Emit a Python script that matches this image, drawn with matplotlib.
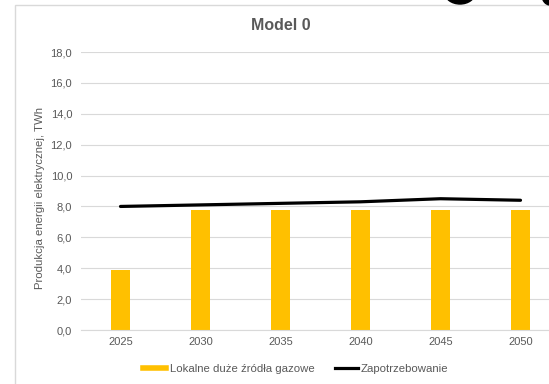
import matplotlib
matplotlib.use("Agg")
import matplotlib.pyplot as plt
from matplotlib.lines import Line2D
from matplotlib.patches import Rectangle, Ellipse
import numpy as np

years = ["2025", "2030", "2035", "2040", "2045", "2050"]
gas_local = [3.9, 7.8, 7.8, 7.8, 7.8, 7.8]
demand = [8.0, 8.1, 8.2, 8.3, 8.5, 8.4]
yticks = [0, 2, 4, 6, 8, 10, 12, 14, 16, 18]
title = "Model 0"
ylabel = "Produkcja energii elektrycznej, TWh"
legend_labels = ["Lokalne duże źródła gazowe", "Zapotrzebowanie"]

plt.rcParams['font.family'] = ['Liberation Sans', 'DejaVu Sans']
W, H = 549, 384
fig = plt.figure(figsize=(W / 100, H / 100), dpi=100)
fig.patch.set_facecolor("white")

def fx(px):
    return px / W

def fy(py):
    return 1 - py / H

# chart frame
fig.add_artist(Rectangle((fx(15), fy(400)), fx(600) - fx(15), fy(5) - fy(400),
                         transform=fig.transFigure, fill=False,
                         edgecolor="#d9d9d9", linewidth=1.0))

# fragments of cropped text above the frame
fig.add_artist(Ellipse((fx(460), fy(-7)), 30 / W, 22 / H, transform=fig.transFigure,
                       color="black"))
fig.add_artist(Ellipse((fx(550), fy(-5)), 16 / W, 20 / H, transform=fig.transFigure,
                       color="black"))

left, right, top, bottom = 80.5, 560.5, 52, 330
ax = fig.add_axes([fx(left), fy(bottom), fx(right) - fx(left), fy(top) - fy(bottom)])
ax.set_facecolor("none")
x = np.arange(len(years))
ax.bar(x, gas_local, width=0.24, color="#FFC000", zorder=2)
ax.plot(x, demand, color="black", linewidth=2.3, solid_capstyle="round", zorder=3)

ax.set_xlim(-0.5, len(years) - 0.5)
ax.set_ylim(0, 18)
ax.set_yticks(yticks)
ax.set_yticklabels([f"{v:.1f}".replace(".", ",") for v in yticks])
ax.set_xticks(x)
ax.set_xticklabels(years)
ax.tick_params(axis="both", length=0, labelsize=8, labelcolor="#595959")
ax.tick_params(axis="y", pad=6)
ax.tick_params(axis="x", pad=5)
ax.grid(axis="y", color="#d9d9d9", linewidth=0.8, zorder=0)
for s in ["top", "right", "left"]:
    ax.spines[s].set_visible(False)
ax.spines["bottom"].set_color("#d9d9d9")
ax.spines["bottom"].set_linewidth(0.8)

fig.text(fx(40), fy(198), ylabel, rotation=90, ha="center", va="center",
         fontsize=8.2, color="#595959")
fig.text(fx(281), fy(25), title, ha="center", va="center", fontsize=11.5,
         fontweight="bold", color="#595959")

handles = [Line2D([0], [0], color="#FFC000", linewidth=4),
           Line2D([0], [0], color="black", linewidth=2.3)]
fig.legend(handles, legend_labels, loc="center", ncol=2,
           bbox_to_anchor=(fx(296), fy(369)), frameon=False, fontsize=8.2,
           labelcolor="#595959", handlelength=2.0, handletextpad=0.3,
           columnspacing=1.8)

fig.savefig("out.png", dpi=100)
